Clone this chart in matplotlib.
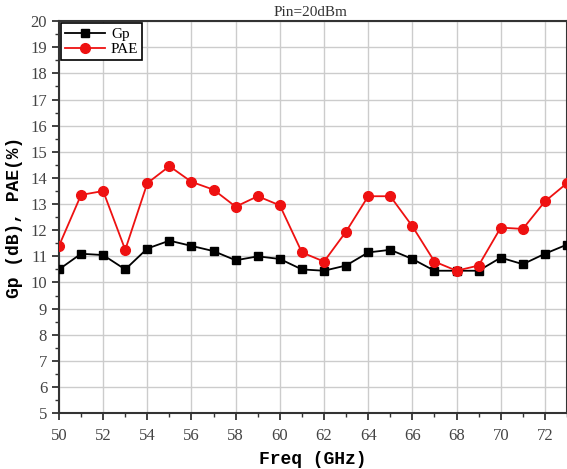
import matplotlib
matplotlib.use("Agg")
import matplotlib.pyplot as plt
from matplotlib.ticker import MultipleLocator

freq = [50, 51, 52, 53, 54, 55, 56, 57, 58, 59, 60, 61,
        62, 63, 64, 65, 66, 67, 68, 69, 70, 71, 72, 73]
gp = [10.5, 11.1, 11.05, 10.5, 11.3, 11.6, 11.4, 11.2, 10.85, 11.0, 10.9, 10.5,
      10.45, 10.65, 11.15, 11.25, 10.9, 10.45, 10.45, 10.45, 10.95, 10.7, 11.1, 11.45]
pae = [11.4, 13.35, 13.5, 11.25, 13.8, 14.45, 13.85, 13.55, 12.9, 13.3, 12.95, 11.15,
       10.8, 11.95, 13.3, 13.3, 12.15, 10.8, 10.45, 10.65, 12.1, 12.05, 13.1, 13.8]

plt.rcParams["font.family"] = ["Liberation Serif", "DejaVu Serif"]

fig = plt.figure(figsize=(5.67, 4.69), dpi=100)
ax = fig.add_axes([0.104, 0.119, 0.896, 0.836])

ax.plot(freq, gp, color="black", marker="s", markersize=6, linewidth=1.3, label="Gp", zorder=3)
ax.plot(freq, pae, color="#ee1111", marker="o", markersize=7, linewidth=1.3, label="PAE", zorder=3)

ax.set_xlim(50, 73)
ax.set_ylim(5, 20)
ax.xaxis.set_major_locator(MultipleLocator(2))
ax.xaxis.set_minor_locator(MultipleLocator(1))
ax.yaxis.set_major_locator(MultipleLocator(1))
ax.yaxis.set_minor_locator(MultipleLocator(0.5))
ax.grid(True, which="major", color="#cccccc", linewidth=1.0)
ax.set_axisbelow(True)

for s in ax.spines.values():
    s.set_color("#333333")
    s.set_linewidth(1.5)
ax.tick_params(which="major", direction="out", length=5, width=1.3, labelsize=12, colors="#333333")
ax.tick_params(which="minor", direction="out", length=3, width=1.0, colors="#333333")
ax.tick_params(axis="x", pad=6)
ax.tick_params(labelcolor="#444444")

ax.set_xlabel("Freq (GHz)", family="Liberation Mono", fontweight="bold", fontsize=13, labelpad=5)
ax.set_ylabel("Gp (dB), PAE(%)", family="Liberation Mono", fontweight="bold", fontsize=13, labelpad=5)
fig.text(0.547, 0.973, "Pin=20dBm", ha="center", va="center", fontsize=11, color="#333333")

leg = ax.legend(loc="upper left", fontsize=11, borderaxespad=0.15, handlelength=2.6,
                fancybox=False, framealpha=1, borderpad=0.25, labelspacing=0.1, handletextpad=0.4)
leg.get_frame().set_edgecolor("black")
leg.get_frame().set_linewidth(1.2)

fig.savefig("out.png", dpi=100)
